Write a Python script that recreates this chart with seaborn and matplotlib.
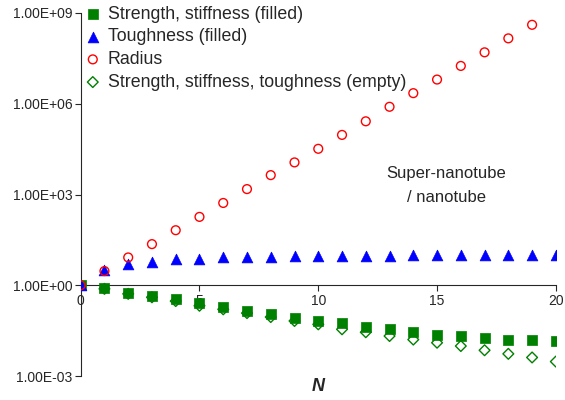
import numpy as np
import matplotlib
matplotlib.use("Agg")
import matplotlib.pyplot as plt
import seaborn as sns
from matplotlib.ticker import FuncFormatter, NullLocator

# valores (N = 0..20)
n_vals = list(range(21))
resistencia = [1, 0.81, 0.56, 0.43, 0.34, 0.25, 0.19, 0.14, 0.11, 0.085, 0.068,
               0.055, 0.043, 0.035, 0.028, 0.023, 0.021, 0.018, 0.016, 0.015, 0.014]
tenacidade = [1, 3.1, 5.0, 5.8, 7.1, 7.6, 8.3, 8.7, 8.9, 9.1, 9.3,
              9.4, 9.5, 9.6, 9.7, 9.8, 9.9, 10.0, 10.0, 10.1, 10.1]
n_raio = list(range(20))
raio = [1, 2.95, 8.3, 22.9, 66, 182, 525, 1510, 4370, 11500, 32400,
        93300, 2.63e5, 7.94e5, 2.24e6, 6.31e6, 1.78e7, 5.01e7, 1.45e8, 4.07e8]
vazio = [1, 0.76, 0.52, 0.40, 0.30, 0.21, 0.16, 0.12, 0.089, 0.066, 0.051,
         0.035, 0.028, 0.021, 0.016, 0.0126, 0.0098, 0.0071, 0.0054, 0.0041, 0.0030]

rotulos = ['Strength, stiffness (filled)', 'Toughness (filled)', 'Radius',
           'Strength, stiffness, toughness (empty)']

sns.set_style("ticks")
plt.rcParams['font.family'] = ['Liberation Sans', 'DejaVu Sans']

fig = plt.figure(figsize=(5.65, 4), dpi=100)
ax = fig.add_axes([0.1428, 0.06, 0.841, 0.9075])

sns.scatterplot(x=n_vals, y=resistencia, marker='s', s=45, color='#008000',
                edgecolor='#008000', linewidth=0.5, label=rotulos[0], ax=ax, zorder=3)
sns.scatterplot(x=n_vals, y=tenacidade, marker='^', s=60, color='#0000ff',
                edgecolor='#0000ff', linewidth=0.5, label=rotulos[1], ax=ax, zorder=4)
sns.scatterplot(x=n_raio, y=raio, marker='o', s=40, facecolor='none',
                edgecolor='#ff0000', linewidth=1.0, label=rotulos[2], ax=ax, zorder=5)
sns.scatterplot(x=n_vals, y=vazio, marker='D', s=30, facecolor='none',
                edgecolor='#008000', linewidth=1.0, label=rotulos[3], ax=ax, zorder=2)

ax.set_yscale('log')
ax.set_ylim(1e-3, 1e9)
ax.set_xlim(0, 20)
ax.set_yticks([1e-3, 1e0, 1e3, 1e6, 1e9])
ax.yaxis.set_minor_locator(NullLocator())
ax.yaxis.set_major_formatter(FuncFormatter(lambda v, p: f"{v:.2E}"))
ax.set_xticks([0, 5, 10, 15, 20])

ax.spines['top'].set_visible(False)
ax.spines['right'].set_visible(False)
ax.spines['bottom'].set_position(('data', 1))
ax.tick_params(axis='both', labelsize=10, length=4, width=0.8, pad=2)

ax.set_xlabel('N', fontsize=13, fontweight='bold', fontstyle='italic')
ax.xaxis.set_label_coords(0.5, -0.005)
ax.set_ylabel('')

ax.text(0.77, 0.526, 'Super-nanotube\n/ nanotube', transform=ax.transAxes,
        ha='center', va='center', fontsize=12, linespacing=1.75)

ax.legend(loc='upper left', bbox_to_anchor=(0.003, 1.03), frameon=False,
          fontsize=12.8, handlelength=0.8, handletextpad=0.45, labelspacing=0.32,
          borderpad=0.2, borderaxespad=0)

fig.savefig('out.png', dpi=100)
